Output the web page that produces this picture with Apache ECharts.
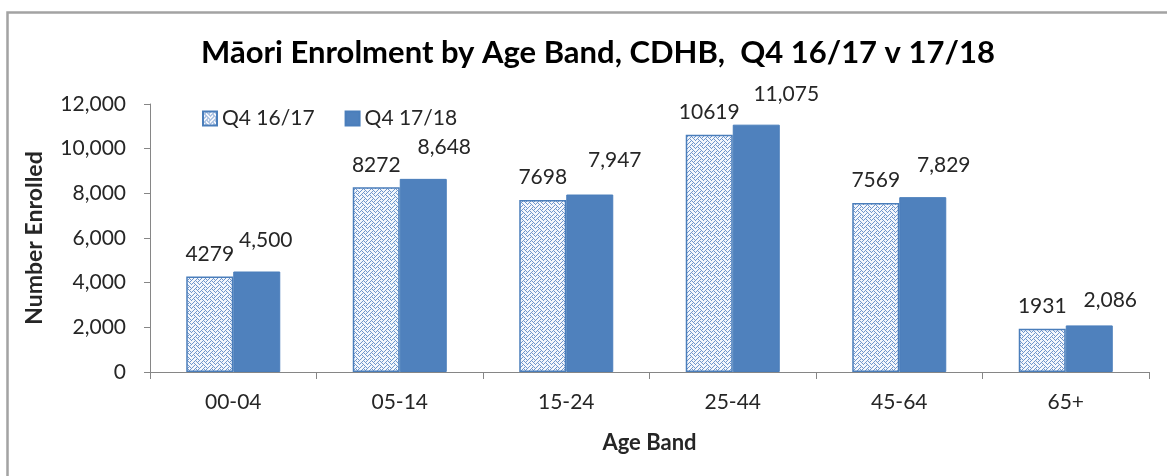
<!DOCTYPE html>
<html>
<head>
<meta charset="utf-8">
<script src="https://cdn.jsdelivr.net/npm/echarts@6/dist/echarts.min.js"></script>
<style>
html,body{margin:0;padding:0;background:#fff;}
#chart{width:1167px;height:476px;}
</style>
</head>
<body>
<div id="chart"></div>
<script>
// ---- data ----
const categories = ['00-04', '05-14', '15-24', '25-44', '45-64', '65+'];
const seriesNames = ['Q4 16/17', 'Q4 17/18'];
const valuesQ4_1617 = [4279, 8272, 7698, 10619, 7569, 1931];
const valuesQ4_1718 = [4500, 8648, 7947, 11075, 7829, 2086];
const yTicks = [0, 2000, 4000, 6000, 8000, 10000, 12000];

// ---- style: per-label nudges for the second series ----
const labelNudge2 = [[9, -9], [21, -9], [25, -12], [30, -8], [21, -9], [21, -3]];

// weave pattern
function makePattern() {
  const rows = [0x11, 0x2a, 0x44, 0xa2, 0x11, 0x28, 0x44, 0x8a];
  const c = document.createElement('canvas');
  c.width = 8; c.height = 8;
  const g = c.getContext('2d');
  g.fillStyle = '#f4f7fc';
  g.fillRect(0, 0, 8, 8);
  g.fillStyle = '#6f96cc';
  for (let y = 0; y < 8; y++) {
    for (let x = 0; x < 8; x++) {
      if (rows[y] & (0x80 >> x)) g.fillRect(x, y, 1, 1);
    }
  }
  return c;
}
const pattern = makePattern();

const FONT = 'Lato, "Open Sans", sans-serif';
const chart = echarts.init(document.getElementById('chart'), null, {renderer: 'canvas'});

chart.setOption({
  animation: false,
  backgroundColor: '#ffffff',
  graphic: [{
    type: 'rect', left: 5, top: 10,
    shape: {width: 1300, height: 600},
    style: {fill: 'none', stroke: '#a3a3a3', lineWidth: 2.5},
    silent: true, z: -1
  }],
  title: {
    text: 'Māori Enrolment by Age Band, CDHB,  Q4 16/17 v 17/18',
    left: 593, top: 32, textAlign: 'center',
    textStyle: {fontFamily: FONT, fontSize: 31, fontWeight: 'bold', color: '#000'}
  },
  legend: {
    left: 197, top: 103,
    itemWidth: 14, itemHeight: 14, itemGap: 30,
    icon: 'rect',
    textStyle: {fontFamily: FONT, fontSize: 21, color: '#262626', padding: [0, 0, 0, 0]},
    data: seriesNames
  },
  grid: {left: 150, right: 18, top: 104, bottom: 104},
  xAxis: {
    type: 'category',
    data: categories,
    name: 'Age Band',
    nameLocation: 'middle',
    nameGap: 60,
    nameTextStyle: {fontFamily: FONT, fontSize: 22, fontWeight: 'bold', color: '#262626'},
    axisLine: {lineStyle: {color: '#868686', width: 1}},
    axisTick: {show: true, alignWithLabel: false, length: 7, lineStyle: {color: '#868686'}},
    axisLabel: {fontFamily: FONT, fontSize: 21, color: '#262626', margin: 20}
  },
  yAxis: {
    type: 'value',
    min: yTicks[0], max: yTicks[yTicks.length - 1], interval: 2000,
    name: 'Number Enrolled',
    nameLocation: 'middle',
    nameGap: 104,
    nameTextStyle: {fontFamily: FONT, fontSize: 23, fontWeight: 'bold', color: '#262626'},
    axisLine: {show: true, lineStyle: {color: '#868686', width: 1}},
    axisTick: {show: true, length: 6, lineStyle: {color: '#868686'}},
    splitLine: {show: false},
    axisLabel: {
      fontFamily: FONT, fontSize: 21, color: '#262626', margin: 24,
      formatter: v => v.toLocaleString('en-US')
    }
  },
  series: [
    {
      name: seriesNames[0], type: 'bar',
      data: valuesQ4_1617,
      barWidth: 47, barGap: '0%',
      itemStyle: {color: {image: pattern, repeat: 'repeat'}, borderColor: '#4a7ebb', borderWidth: 1.5},
      label: {
        show: true, position: 'top', distance: 12,
        fontFamily: FONT, fontSize: 21, color: '#262626',
        formatter: p => String(p.value)
      }
    },
    {
      name: seriesNames[1], type: 'bar',
      data: valuesQ4_1718.map((v, i) => ({
        value: v,
        label: {offset: labelNudge2[i]}
      })),
      barWidth: 47, barGap: '0%',
      itemStyle: {color: '#4f81bd', borderColor: '#4a7ebb', borderWidth: 1},
      label: {
        show: true, position: 'top', distance: 12,
        fontFamily: FONT, fontSize: 21, color: '#262626',
        formatter: p => p.value.toLocaleString('en-US')
      }
    }
  ]
});
</script>
</body>
</html>
